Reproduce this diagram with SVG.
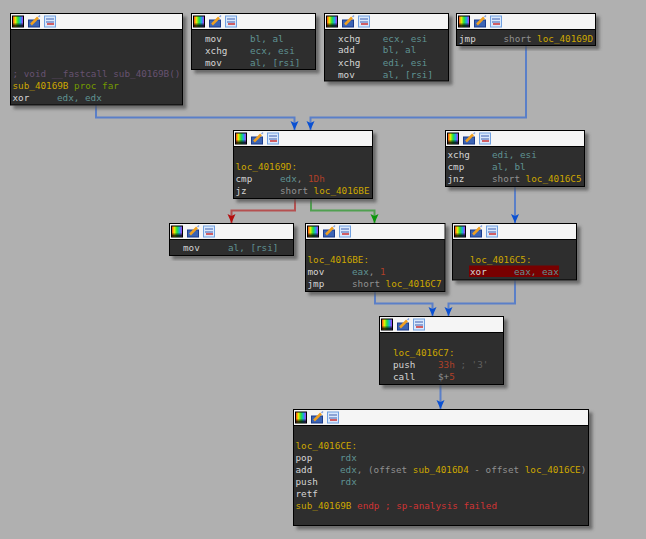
<svg xmlns="http://www.w3.org/2000/svg" width="646" height="539" viewBox="0 0 646 539">
<style>
text{font-family:"DejaVu Sans Mono","Liberation Mono",monospace;font-size:9.3px;white-space:pre;fill:#d4d4d4}
.b{fill:#2e2e2e;stroke:#000;stroke-width:1}
.bs{filter:url(#sh)}
.h{fill:#f5f5f5}
.hl{stroke:#000;stroke-width:1;fill:none}
.o{fill:#5f9292}
.l{fill:#cca600}
.g{fill:#909090}
.n{fill:#b04028}
.c{fill:#665270}
.p{fill:#749a00}
.r{fill:#d03434}
.d{fill:#606060}
.e{fill:none;stroke-width:2}
.bl{stroke:#5a7fc8}.rd{stroke:#b55050}.gr{stroke:#50a050}
</style>
<defs>
<linearGradient id="rb" x1="0" x2="1" y1="0" y2="0">
<stop offset="0" stop-color="#ff2020"/><stop offset=".25" stop-color="#f0f000"/><stop offset=".5" stop-color="#20e040"/><stop offset=".75" stop-color="#20a0f0"/><stop offset="1" stop-color="#d020f0"/>
</linearGradient>
<linearGradient id="dk" x1="0" x2="0" y1="0" y2="1"><stop offset="0" stop-color="#000" stop-opacity="0"/><stop offset="1" stop-color="#000"/></linearGradient>
<filter id="sh" x="-10%" y="-10%" width="120%" height="125%"><feDropShadow dx="3.5" dy="3.5" stdDeviation="1.8" flood-color="#555" flood-opacity=".75"/></filter>
<marker id="ab" markerUnits="userSpaceOnUse" markerWidth="10" markerHeight="9" refX="9" refY="4" orient="auto"><path d="M0 0L9 4 0 8 2 4Z" fill="#0a50d2"/></marker>
<marker id="ar" markerUnits="userSpaceOnUse" markerWidth="10" markerHeight="9" refX="9" refY="4" orient="auto"><path d="M0 0L9 4 0 8 2 4Z" fill="#b40e0e"/></marker>
<marker id="ag" markerUnits="userSpaceOnUse" markerWidth="10" markerHeight="9" refX="9" refY="4" orient="auto"><path d="M0 0L9 4 0 8 2 4Z" fill="#0a960a"/></marker>
<g id="ic">
<rect x="0.5" y="0.5" width="11" height="11" fill="url(#rb)" stroke="#000"/>
<rect x="1" y="7" width="10" height="4" fill="url(#dk)"/>
<rect x="16.5" y="4.5" width="11" height="7" fill="#3c64b4" stroke="#1c3c8c"/>
<path d="M19 9L26 2" stroke="#f0a020" stroke-width="2.5"/>
<path d="M26.5 1.500L28 0" stroke="#80a0e0" stroke-width="1.5"/>
<rect x="32.5" y="0.5" width="11" height="11" fill="#d8e8fc" stroke="#70a0e0"/>
<path d="M34 3.500H42M34 6.500H42" stroke="#4060b0"/>
<path d="M35 8.500H42" stroke="#d03030" stroke-width="1.5"/>
</g>
</defs>
<rect width="646" height="539" fill="#b0b0b0"/>

<g id="connectors">
<path class="e bl" d="M96 105V117.500H294.500V130" marker-end="url(#ab)"/>
<path class="e bl" d="M526 45.500V117.500H310.500V130" marker-end="url(#ab)"/>
<path class="e rd" d="M295 198.500V210.500H231.500V223" marker-end="url(#ar)"/>
<path class="e gr" d="M311 198.500V210.500H374.500V223" marker-end="url(#ag)"/>
<path class="e bl" d="M515 186.500V223" marker-end="url(#ab)"/>
<path class="e bl" d="M375 291.500V303.500H432.500V316" marker-end="url(#ab)"/>
<path class="e bl" d="M515 280V303.500H448.500V316" marker-end="url(#ab)"/>
<path class="e bl" d="M440.500 384.500V409" marker-end="url(#ab)"/>
</g>

<g id="n1">
<rect class="b bs" x="10.500" y="13.500" width="172" height="91.500"/>
<rect class="h" x="11" y="14" width="171" height="15"/><path class="hl" d="M11 29.500H182"/>
<use href="#ic" x="12" y="15.500"/>
<text x="12.500" y="77" class="c">; void __fastcall sub_40169B()</text>
<text x="12.500" y="89"><tspan class="l">sub_40169B</tspan><tspan class="p"> proc far</tspan></text>
<text x="12.500" y="101">xor</text><text x="57" y="101" class="o">edx, edx</text>
</g>

<g id="n2">
<rect class="b bs" x="191.500" y="13.500" width="124" height="56"/>
<rect class="h" x="192" y="14" width="123" height="15"/><path class="hl" d="M192 29.500H315"/>
<use href="#ic" x="193" y="15.500"/>
<text x="205" y="41.500">mov</text><text x="250" y="41.500" class="o">bl, al</text>
<text x="205" y="53.500">xchg</text><text x="250" y="53.500" class="o">ecx, esi</text>
<text x="205" y="65.500">mov</text><text x="250" y="65.500" class="o">al, [rsi]</text>
</g>

<g id="n3">
<rect class="b bs" x="324.500" y="13.500" width="124" height="67.500"/>
<rect class="h" x="325" y="14" width="123" height="15"/><path class="hl" d="M325 29.500H448"/>
<use href="#ic" x="326" y="15.500"/>
<text x="338" y="41.500">xchg</text><text x="382.700" y="41.500" class="o">ecx, esi</text>
<text x="338" y="53">add</text><text x="382.700" y="53" class="o">bl, al</text>
<text x="338" y="65.500">xchg</text><text x="382.700" y="65.500" class="o">edi, esi</text>
<text x="338" y="77.500">mov</text><text x="382.700" y="77.500" class="o">al, [rsi]</text>
</g>

<g id="n4">
<rect class="b bs" x="456.500" y="13.500" width="139" height="32"/>
<rect class="h" x="457" y="14" width="138" height="15"/><path class="hl" d="M457 29.500H595"/>
<use href="#ic" x="458" y="15.500"/>
<text x="459" y="41.500">jmp</text><text x="503.500" y="41.500"><tspan class="g">short </tspan><tspan class="l">loc_40169D</tspan></text>
</g>

<g id="n5">
<rect class="b bs" x="233.500" y="130.500" width="139" height="68"/>
<rect class="h" x="234" y="131" width="138" height="15"/><path class="hl" d="M234 146.500H372"/>
<use href="#ic" x="235" y="132.500"/>
<text x="235.500" y="170" class="l">loc_40169D:</text>
<text x="235.500" y="182">cmp</text><text x="280" y="182"><tspan class="o">edx</tspan><tspan class="g">, </tspan><tspan class="n">1Dh</tspan></text>
<text x="235.500" y="194">jz</text><text x="280" y="194"><tspan class="g">short </tspan><tspan class="l">loc_4016BE</tspan></text>
</g>

<g id="n6">
<rect class="b bs" x="445.500" y="130.500" width="139" height="56"/>
<rect class="h" x="446" y="131" width="138" height="15"/><path class="hl" d="M446 146.500H584"/>
<use href="#ic" x="447" y="132.500"/>
<text x="447.500" y="158">xchg</text><text x="492" y="158" class="o">edi, esi</text>
<text x="447.500" y="170">cmp</text><text x="492" y="170" class="o">al, bl</text>
<text x="447.500" y="182">jnz</text><text x="492" y="182"><tspan class="g">short </tspan><tspan class="l">loc_4016C5</tspan></text>
</g>

<g id="n7">
<rect class="b bs" x="169.500" y="223.500" width="124" height="32"/>
<rect class="h" x="170" y="224" width="123" height="15"/><path class="hl" d="M170 239.500H293"/>
<use href="#ic" x="171" y="225.500"/>
<text x="183" y="251">mov</text><text x="228" y="251" class="o">al, [rsi]</text>
</g>

<g id="n8">
<rect class="b bs" x="305.500" y="223.500" width="139.500" height="68"/>
<rect class="h" x="306" y="224" width="138.500" height="15"/><path class="hl" d="M306 239.500H444.500"/>
<use href="#ic" x="307" y="225.500"/>
<text x="307.500" y="263" class="l">loc_4016BE:</text>
<text x="307.500" y="275">mov</text><text x="352" y="275"><tspan class="o">eax</tspan><tspan class="g">, </tspan><tspan class="n">1</tspan></text>
<text x="307.500" y="287">jmp</text><text x="352" y="287"><tspan class="g">short </tspan><tspan class="l">loc_4016C7</tspan></text>
</g>

<g id="n9">
<rect class="b bs" x="452.500" y="223.500" width="124" height="56.500"/>
<rect class="h" x="453" y="224" width="123" height="15"/><path class="hl" d="M453 239.500H576"/>
<use href="#ic" x="454" y="225.500"/>
<rect x="469" y="265.500" width="90" height="11.500" fill="#780000"/>
<text x="470" y="263" class="l">loc_4016C5:</text>
<text x="470" y="275">xor</text><text x="514" y="275" class="o">eax, eax</text>
</g>

<g id="n10">
<rect class="b bs" x="379.500" y="316.500" width="124" height="68"/>
<rect class="h" x="380" y="317" width="123" height="15"/><path class="hl" d="M380 332.500H503"/>
<use href="#ic" x="381" y="318.500"/>
<text x="393" y="356" class="l">loc_4016C7:</text>
<text x="393" y="368">push</text><text x="438" y="368"><tspan class="n">33h</tspan><tspan class="d"> ; '3'</tspan></text>
<text x="393" y="380">call</text><text x="438" y="380"><tspan class="g">$+</tspan><tspan class="n">5</tspan></text>
</g>

<g id="n11">
<rect class="b bs" x="293.500" y="409.500" width="295" height="116"/>
<rect class="h" x="294" y="410" width="294" height="15"/><path class="hl" d="M294 425.500H588"/>
<use href="#ic" x="295" y="411.500"/>
<text x="295.500" y="449" class="l">loc_4016CE:</text>
<text x="295.500" y="461">pop</text><text x="340" y="461" class="o">rdx</text>
<text x="295.500" y="473">add</text><text x="340" y="473"><tspan class="o">edx</tspan><tspan class="g">, (offset </tspan><tspan class="l">sub_4016D4</tspan><tspan class="g"> - offset </tspan><tspan class="l">loc_4016CE</tspan><tspan class="g">)</tspan></text>
<text x="295.500" y="485">push</text><text x="340" y="485" class="o">rdx</text>
<text x="295.500" y="497">retf</text>
<text x="295.500" y="509"><tspan class="l">sub_40169B</tspan><tspan class="r"> endp ; sp-analysis failed</tspan></text>
</g>
</svg>
